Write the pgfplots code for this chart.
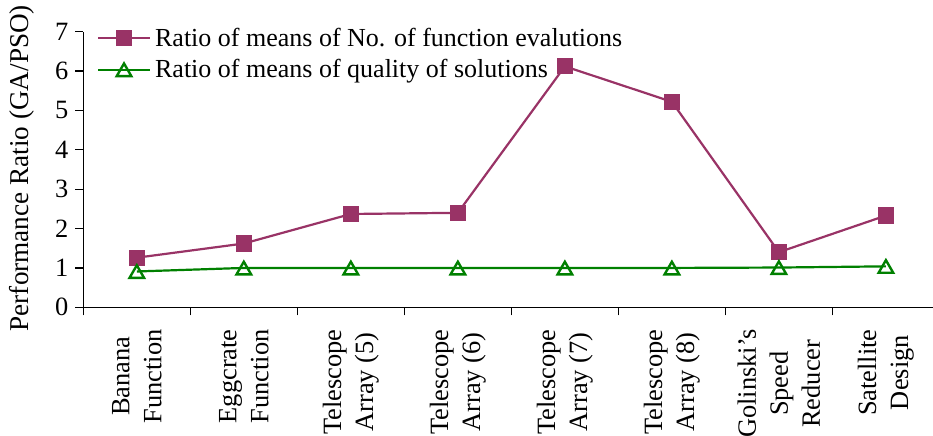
\documentclass[border=0pt]{standalone}
\usepackage{fontspec}
\setmainfont{Liberation Serif}
\usepackage{pgfplots}
\pgfplotsset{compat=1.18}
\definecolor{plum}{HTML}{993366}
\definecolor{leaf}{HTML}{008000}

\begin{document}
\begin{tikzpicture}
\begin{axis}[
  name=ax,
  scale only axis,
  width=424.85pt, height=137.8pt,
  xmin=-0.5, xmax=7.44, ymin=0, ymax=7,
  axis x line*=bottom, axis y line*=left,
  axis line style={black, line width=0.6pt, -},
  xtick={0,...,7},
  xticklabels={{Banana\\Function},{Eggcrate\\Function},{Telescope\\Array (5)},{Telescope\\Array (6)},{Telescope\\Array (7)},{Telescope\\Array (8)},{Golinski's\\Speed\\Reducer},{Satellite\\Design}},
  major x tick style={draw=none},
  minor xtick={-0.5,0.5,...,6.5},
  minor tick length=4pt,
  major tick length=4pt,
  ytick={0,...,7},
  tick align=outside,
  tick style={black, line width=0.6pt},
  font=\fontsize{13}{16}\selectfont,
  /pgf/number format/assume math mode=true,
  ticklabel style={font=\fontsize{13.2}{16}\selectfont},
  xticklabel style={rotate=90, anchor=east, align=center},
  xticklabel shift=3.5pt,
  ylabel={Performance Ratio (GA/PSO)},
  ylabel style={at={(axis description cs:-0.0721,0.505)}, anchor=center, font=\fontsize{13.6}{16}\selectfont},
  legend cell align=left,
  legend style={at={(axis description cs:0.0085,1.045)}, anchor=north west,
    draw=none, fill=none, font=\fontsize{13}{16}\selectfont, row sep=1pt},
  legend image code/.code={\draw[mark repeat=2,mark phase=2,#1] plot coordinates {(0pt,0pt) (13pt,0pt) (26pt,0pt)};},
]
\addplot[plum, line width=1.1pt, mark=square*, mark size=3.5pt, mark options={fill=plum}]
  coordinates {(0,1.26) (1,1.62) (2,2.37) (3,2.40) (4,6.12) (5,5.22) (6,1.40) (7,2.33)};
\addlegendentry{Ratio of means of No. of function evalutions}
\addplot[leaf, line width=1.1pt, mark=triangle, mark size=4.2pt, mark options={fill=white, line width=1.2pt, yshift=-1.1pt}]
  coordinates {(0,0.91) (1,1.00) (2,1.00) (3,1.00) (4,1.00) (5,1.00) (6,1.01) (7,1.04)};
\addlegendentry{Ratio of means of quality of solutions}
\end{axis}
\pgfresetboundingbox
\path[use as bounding box] ([shift={(-41.65pt,-63.85pt)}]ax.south west) rectangle ([shift={(424.85pt,153.65pt)}]ax.south west);
\end{tikzpicture}
\end{document}
